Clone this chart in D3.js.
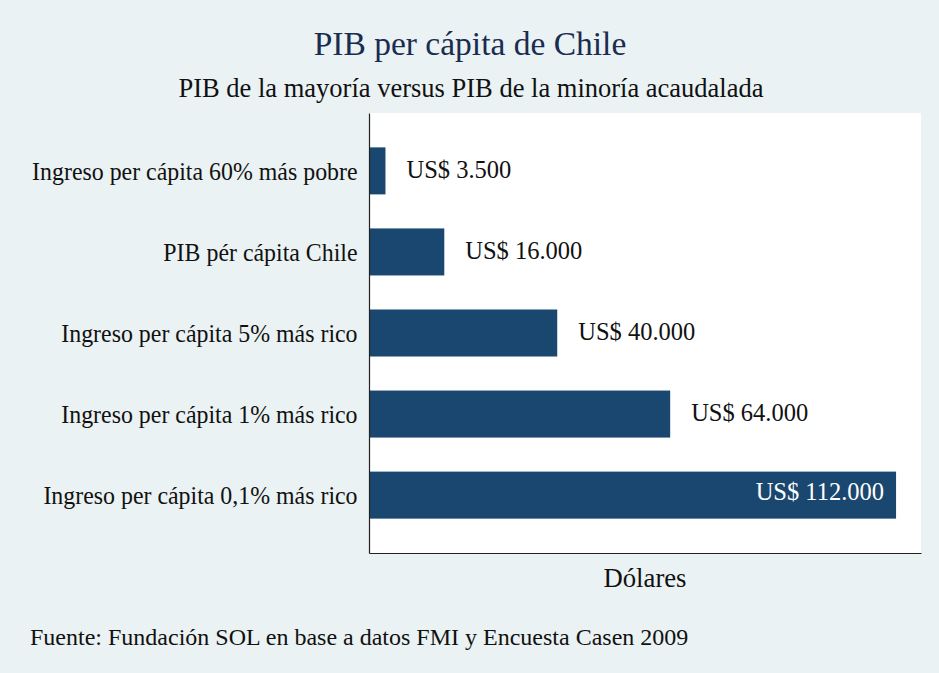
<!DOCTYPE html>
<html lang="es">
<head>
    <meta charset="utf-8">
    <title>PIB per cápita de Chile</title>
    <style>
        body { margin: 0; background: #eaf2f3; }
        svg text { font-family: "Liberation Serif", "Times New Roman", serif; }
        .chart .domain { stroke: #222; stroke-width: 1.2; }
        .chart .tick line { display: none; }
    </style>
</head>
<body>
<div id="chart"></div>
<script src="https://d3js.org/d3.v7.min.js"></script>
<script>
    var categories = [
        "Ingreso per cápita 60% más pobre",
        "PIB pér cápita Chile",
        "Ingreso per cápita 5% más rico",
        "Ingreso per cápita 1% más rico",
        "Ingreso per cápita 0,1% más rico"
    ];
    var values = [3500, 16000, 40000, 64000, 112000];
    var valueLabels = ["US$ 3.500", "US$ 16.000", "US$ 40.000", "US$ 64.000", "US$ 112.000"];

    var width = 939, height = 673;
    var margin = {top: 113, right: 18, bottom: 120, left: 369};
    var plotW = width - margin.left - margin.right;
    var plotH = height - margin.top - margin.bottom;

    var svg = d3.select("#chart").append("svg")
        .attr("class", "chart")
        .attr("width", width)
        .attr("height", height);

    svg.append("rect").attr("width", width).attr("height", height).attr("fill", "#eaf2f3");

    function label(parent, x, y, size, anchor, color, txt) {
        return parent.append("text")
            .attr("x", x).attr("y", y)
            .attr("text-anchor", anchor)
            .attr("font-size", size)
            .attr("fill", color)
            .text(txt);
    }

    label(svg, 470, 55, 33.5, "middle", "#1a2c4f", "PIB per cápita de Chile");
    label(svg, 471, 97, 26.5, "middle", "#111", "PIB de la mayoría versus PIB de la minoría acaudalada");

    var g = svg.append("g").attr("transform", "translate(" + margin.left + "," + margin.top + ")");

    g.append("rect").attr("width", plotW).attr("height", plotH).attr("fill", "#fff");

    var x = d3.scaleLinear().domain([0, 117300]).range([0, plotW]);
    var y = d3.scaleBand().domain(categories).range([0, plotH]).paddingInner(0.42).paddingOuter(0.424);

    g.selectAll(".bar").data(values).enter().append("rect")
        .attr("class", "bar")
        .attr("x", 0)
        .attr("y", function (d, i) { return y(categories[i]); })
        .attr("width", function (d) { return x(d); })
        .attr("height", y.bandwidth())
        .attr("fill", "#1a476f");

    values.forEach(function (d, i) {
        var last = i === values.length - 1;
        var cy = y(categories[i]) + y.bandwidth() / 2;
        label(g, last ? x(d) - 12 : x(d) + 21, cy + (last ? 5 : 7), 24.5,
            last ? "end" : "start", last ? "#fff" : "#111", valueLabels[i]);
    });

    // category labels look a little narrower than the rest of the type
    var yAxis = d3.axisLeft(y).tickSize(0).tickPadding(12).tickSizeOuter(0);
    g.append("g").attr("class", "y").call(yAxis)
        .selectAll("text")
        .attr("font-size", 25).attr("fill", "#111")
        .attr("font-family", "Liberation Serif, serif")
        .attr("dy", null).attr("y", 9)
        .attr("transform", "scale(0.955,1)");

    var xAxis = d3.axisBottom(x).tickValues([]).tickSizeOuter(0);
    g.append("g").attr("class", "x").attr("transform", "translate(0," + plotH + ")").call(xAxis);

    label(svg, margin.left + plotW / 2, 587, 26.7, "middle", "#111", "Dólares");

    label(svg, 30, 645, 24, "start", "#111",
        "Fuente: Fundación SOL en base a datos FMI y Encuesta Casen 2009");
</script>
</body>
</html>
